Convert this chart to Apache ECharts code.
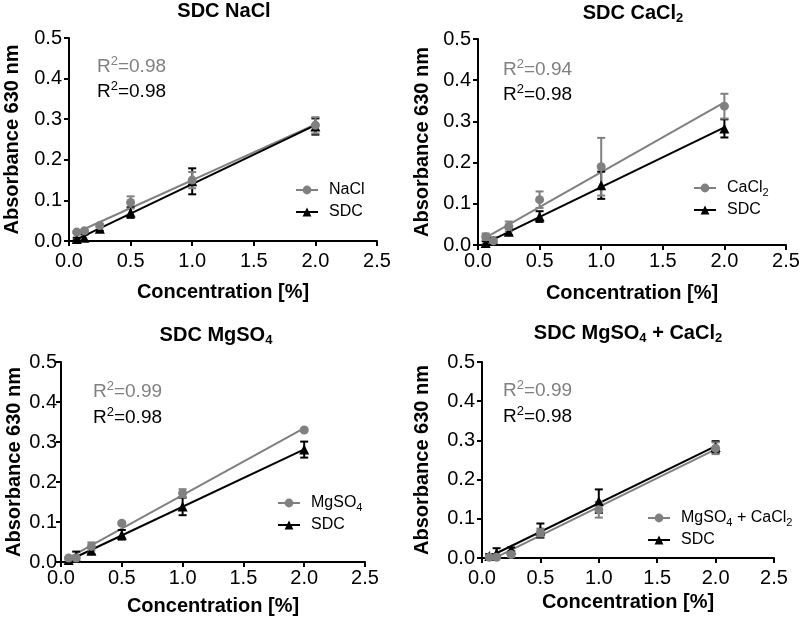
<!DOCTYPE html>
<html><head><meta charset="utf-8">
<script src="https://cdn.jsdelivr.net/npm/echarts@6/dist/echarts.min.js"></script>
<style>html,body{margin:0;padding:0;background:#fff}#c{width:800px;height:621px}</style>
</head><body><div id="c"></div>
<script>
// ---------- data ----------
const concentration = [0.0625, 0.125, 0.25, 0.5, 1, 2];
const xTicks = [0, 0.5, 1.0, 1.5, 2.0, 2.5];
const yTicks = [0, 0.1, 0.2, 0.3, 0.4, 0.5];
const saltNames = ['NaCl', 'CaCl2', 'MgSO4', 'MgSO4 + CaCl2'];
const controlName = 'SDC';

const naclMean = [0.022, 0.025, 0.038, 0.095, 0.150, 0.285];
const naclSd   = [0.002, 0.003, 0.004, 0.015, 0.020, 0.020];
const cacl2Mean = [0.020, 0.010, 0.045, 0.110, 0.190, 0.337];
const cacl2Sd   = [0.008, 0.005, 0.012, 0.020, 0.070, 0.030];
const mgso4Mean = [0.010, 0.010, 0.039, 0.097, 0.172, 0.330];
const mgso4Sd   = [0.002, 0.003, 0.010, 0.004, 0.010, 0.003];
const mixMean = [0.002, 0.002, 0.009, 0.065, 0.123, 0.280];
const mixSd   = [0.002, 0.002, 0.008, 0.010, 0.020, 0.015];

const sdcMean1 = [0.005, 0.008, 0.030, 0.070, 0.147, 0.282];
const sdcSd1   = [0.003, 0.008, 0.005, 0.013, 0.032, 0.020];
const sdcMean2 = [0.005, 0.010, 0.032, 0.069, 0.145, 0.283];
const sdcSd2   = [0.004, 0.008, 0.008, 0.013, 0.033, 0.022];
const sdcMean3 = [0.005, 0.012, 0.028, 0.068, 0.139, 0.281];
const sdcSd3   = [0.004, 0.014, 0.008, 0.012, 0.022, 0.020];
const sdcMean4 = [0.005, 0.013, 0.022, 0.070, 0.145, 0.283];
const sdcSd4   = [0.005, 0.012, 0.005, 0.018, 0.030, 0.015];

const r2Salt = ['0.98', '0.94', '0.99', '0.99'];
const r2Sdc  = ['0.98', '0.98', '0.98', '0.98'];

// ---------- layout (pixels / styles) ----------
const FONT = '"Liberation Sans", Arial, Helvetica, sans-serif';
const GREY = '#808080';
const BLACK = '#000000';
const layout = [
  {grid:{left:69,top:38,width:308,height:203}, yNameGap:47, yLabelMargin:7, xLabelMargin:10, xNameGap:41, title:{x:224,y:-1}, legend:{left:295,top:180}, r2:{x:97,y1:67,y2:92}},
  {grid:{left:478,top:39,width:308,height:206}, yNameGap:46, yLabelMargin:7, xLabelMargin:6, xNameGap:38, title:{x:633,y:1}, legend:{left:693,top:178}, r2:{x:503,y1:70,y2:95}},
  {grid:{left:61,top:362,width:304,height:200}, yNameGap:37, yLabelMargin:4, xLabelMargin:6, xNameGap:34, title:{x:216,y:323}, legend:{left:277,top:493}, r2:{x:93,y1:392,y2:418}},
  {grid:{left:482,top:362,width:292,height:196}, yNameGap:50, yLabelMargin:7, xLabelMargin:10, xNameGap:34, title:{x:628,y:321}, legend:{left:647,top:508}, r2:{x:503,y1:391,y2:417}}
];

const saltMeans = [naclMean, cacl2Mean, mgso4Mean, mixMean];
const saltSds = [naclSd, cacl2Sd, mgso4Sd, mixSd];
const sdcMeans = [sdcMean1, sdcMean2, sdcMean3, sdcMean4];
const sdcSds = [sdcSd1, sdcSd2, sdcSd3, sdcSd4];

// ---------- helpers ----------
function subscriptRich(name, key) {
  return name.replace(/([A-Za-z])(\d)/g, '$1{' + key + '|$2}');
}
function linFit(xs, ys) {
  const n = xs.length;
  const mx = xs.reduce((a, b) => a + b, 0) / n;
  const my = ys.reduce((a, b) => a + b, 0) / n;
  let sxx = 0, sxy = 0;
  for (let i = 0; i < n; i++) { sxx += (xs[i] - mx) ** 2; sxy += (xs[i] - mx) * (ys[i] - my); }
  const m = sxy / sxx, b = my - m * mx;
  const x0 = Math.min(...xs), x1 = Math.max(...xs);
  return [[x0, m * x0 + b], [x1, m * x1 + b]];
}
function errorRenderer(color) {
  return function (params, api) {
    const x = api.value(0), y = api.value(1), e = api.value(2);
    const top = api.coord([x, y + e]);
    const bot = api.coord([x, y - e]);
    const hw = 4;
    const style = {stroke: color, lineWidth: 2};
    return {type: 'group', children: [
      {type: 'line', shape: {x1: top[0], y1: top[1], x2: bot[0], y2: bot[1]}, style},
      {type: 'line', shape: {x1: top[0] - hw, y1: top[1], x2: top[0] + hw, y2: top[1]}, style},
      {type: 'line', shape: {x1: bot[0] - hw, y1: bot[1], x2: bot[0] + hw, y2: bot[1]}, style}
    ]};
  };
}

const grids = [], xAxes = [], yAxes = [], series = [], titles = [], legends = [], graphics = [];

for (let p = 0; p < 4; p++) {
  const L = layout[p];
  grids.push(Object.assign({outerBoundsMode: 'none', containLabel: false}, L.grid));
  xAxes.push({
    type: 'value', gridIndex: p, min: xTicks[0], max: xTicks[xTicks.length - 1],
    interval: xTicks[1] - xTicks[0],
    name: 'Concentration [%]', nameLocation: 'middle', nameGap: L.xNameGap,
    nameTextStyle: {fontFamily: FONT, fontSize: 20, fontWeight: 'bold', color: BLACK},
    axisLine: {show: true, onZero: false, lineStyle: {color: BLACK, width: 2}},
    axisTick: {show: true, length: 5, lineStyle: {color: BLACK, width: 2}},
    axisLabel: {fontFamily: FONT, fontSize: 20, color: BLACK, margin: L.xLabelMargin, formatter: v => v.toFixed(1)},
    splitLine: {show: false}
  });
  yAxes.push({
    type: 'value', gridIndex: p, min: yTicks[0], max: yTicks[yTicks.length - 1],
    interval: yTicks[1] - yTicks[0],
    name: 'Absorbance 630 nm', nameLocation: 'middle', nameGap: L.yNameGap,
    nameTextStyle: {fontFamily: FONT, fontSize: 20, fontWeight: 'bold', color: BLACK},
    axisLine: {show: true, lineStyle: {color: BLACK, width: 2}},
    axisTick: {show: true, length: 5, lineStyle: {color: BLACK, width: 2}},
    axisLabel: {fontFamily: FONT, fontSize: 20, color: BLACK, margin: L.yLabelMargin, formatter: v => v.toFixed(1)},
    splitLine: {show: false}
  });

  const salt = saltNames[p];
  const sm = saltMeans[p], ss = saltSds[p], cm = sdcMeans[p], cs = sdcSds[p];

  // fit lines
  series.push({type: 'line', xAxisIndex: p, yAxisIndex: p, data: linFit(concentration, sm), showSymbol: false, symbol: 'none',
    lineStyle: {color: GREY, width: 2}, silent: true, z: 2, clip: true});
  series.push({type: 'line', xAxisIndex: p, yAxisIndex: p, data: linFit(concentration, cm), showSymbol: false, symbol: 'none',
    lineStyle: {color: BLACK, width: 2}, silent: true, z: 3, clip: true});
  // error bars
  series.push({type: 'custom', xAxisIndex: p, yAxisIndex: p, renderItem: errorRenderer(BLACK), clip: true, z: 4, silent: true,
    encode: {x: 0, y: 1}, data: concentration.map((x, i) => [x, cm[i], cs[i]])});
  series.push({type: 'custom', xAxisIndex: p, yAxisIndex: p, renderItem: errorRenderer(GREY), clip: true, z: 4, silent: true,
    encode: {x: 0, y: 1}, data: concentration.map((x, i) => [x, sm[i], ss[i]])});
  // points
  series.push({type: 'line', name: controlName, xAxisIndex: p, yAxisIndex: p, data: concentration.map((x, i) => [x, cm[i]]),
    symbol: 'triangle', symbolSize: 10, itemStyle: {color: BLACK}, lineStyle: {opacity: 0, width: 0}, z: 5});
  series.push({type: 'line', name: salt, xAxisIndex: p, yAxisIndex: p, data: concentration.map((x, i) => [x, sm[i]]),
    symbol: 'circle', symbolSize: 9, itemStyle: {color: GREY}, lineStyle: {opacity: 0, width: 0}, z: 6});

  titles.push({
    text: subscriptRich('SDC ' + salt, 's'), left: L.title.x, top: L.title.y, textAlign: 'center', padding: 0,
    textStyle: {fontFamily: FONT, fontSize: 20, fontWeight: 'bold', color: BLACK, lineHeight: 24,
      rich: {s: {fontFamily: FONT, fontSize: 13, fontWeight: 'bold', color: BLACK, lineHeight: 13, verticalAlign: 'bottom'}}}
  });
  legends.push({
    orient: 'vertical', left: L.legend.left, top: L.legend.top, padding: 0, itemGap: 2,
    itemWidth: 22, itemHeight: 11,
    data: [
      {name: salt, lineStyle: {color: GREY, width: 2, opacity: 1}},
      {name: controlName, lineStyle: {color: BLACK, width: 2, opacity: 1}}
    ],
    formatter: n => subscriptRich(n, 's'),
    textStyle: {fontFamily: FONT, fontSize: 16, color: BLACK, lineHeight: 20, padding: [0, 0, 0, 6],
      rich: {s: {fontFamily: FONT, fontSize: 11, color: BLACK, lineHeight: 11, verticalAlign: 'bottom'}}},
    selectedMode: false
  });
  const r2 = (val, color, y) => ({
    type: 'text', x: L.r2.x, y: y, silent: true,
    style: {text: '{r|R}{p|2}{r|=' + val + '}', fill: color, verticalAlign: 'middle',
      rich: {r: {fontFamily: FONT, fontSize: 19, lineHeight: 24, fill: color},
             p: {fontFamily: FONT, fontSize: 13, lineHeight: 16, verticalAlign: 'top', fill: color}}}
  });
  graphics.push(r2(r2Salt[p], GREY, L.r2.y1));
  graphics.push(r2(r2Sdc[p], BLACK, L.r2.y2));
}

const chart = echarts.init(document.getElementById('c'), null, {renderer: 'canvas'});
chart.setOption({
  animation: false,
  backgroundColor: '#ffffff',
  title: titles, legend: legends, grid: grids, xAxis: xAxes, yAxis: yAxes, series: series,
  graphic: graphics, tooltip: {show: false}
});
</script></body></html>
